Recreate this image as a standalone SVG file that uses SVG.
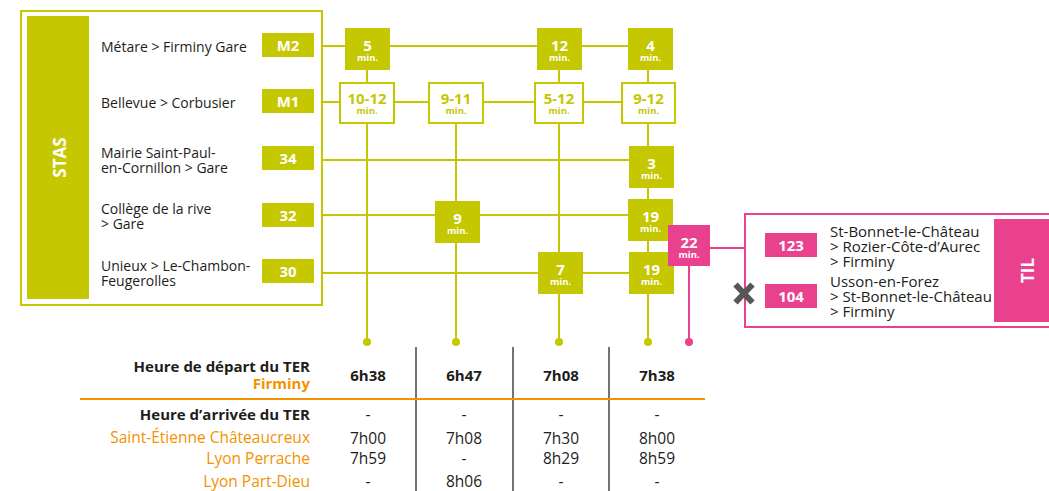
<svg xmlns="http://www.w3.org/2000/svg" width="1049" height="491" viewBox="0 0 1049 491">
<style>
text{font-family:"Open Sans","Liberation Sans",sans-serif;}
.g{fill:#c5c800;}
.p{fill:#e9418e;}
.ln{stroke:#c5c800;stroke-width:2;fill:none;}
.lp{stroke:#e9418e;stroke-width:2;fill:none;}
.ob{fill:#fff;stroke:#c5c800;stroke-width:2;}
.lab{font-size:14px;fill:#1d1d1b;}
.bl{font-size:15px;font-weight:bold;fill:#fff;text-anchor:middle;}
.tt{font-weight:bold;fill:#fff;text-anchor:middle;}
.num{font-size:15px;}
.min{font-size:9.5px;}
.gt{fill:#c5c800;}
.til{font-size:15px;fill:#1d1d1b;}
.th{font-size:15px;font-weight:bold;fill:#1d1d1b;text-anchor:end;}
.to{font-size:15.5px;fill:#f39200;text-anchor:end;}
.tob{font-size:15px;font-weight:bold;fill:#f39200;text-anchor:end;}
.tv{font-size:15.5px;fill:#1d1d1b;text-anchor:middle;}
.tvb{font-size:15px;font-weight:bold;fill:#1d1d1b;text-anchor:middle;}
</style>

<g id="stas-frame">
<rect x="21" y="11" width="301" height="294" fill="none" stroke="#c5c800" stroke-width="2"/>
<rect class="g" x="27" y="16" width="62" height="283"/>
<text transform="translate(65.5,157.5) rotate(-90)" text-anchor="middle" font-size="17" font-weight="bold" fill="#fff">STAS</text>
</g>

<g id="connectors">
<line class="ln" x1="322" y1="46" x2="628" y2="46"/>
<line class="ln" x1="322" y1="102" x2="622" y2="102"/>
<line class="ln" x1="322" y1="160" x2="629" y2="160"/>
<line class="ln" x1="322" y1="215" x2="628" y2="215"/>
<line class="ln" x1="322" y1="273" x2="629" y2="273"/>
<line class="ln" x1="367" y1="70" x2="367" y2="342"/>
<line class="ln" x1="456" y1="123" x2="456" y2="342"/>
<line class="ln" x1="559" y1="70" x2="559" y2="342"/>
<line class="ln" x1="648" y1="70" x2="648" y2="342"/>
<circle class="g" cx="367" cy="342" r="4"/>
<circle class="g" cx="456" cy="342" r="4"/>
<circle class="g" cx="559" cy="342" r="4"/>
<circle class="g" cx="648" cy="342" r="4"/>
<line class="lp" x1="689" y1="266" x2="689" y2="342"/>
<circle class="p" cx="689" cy="342" r="4"/>
<line class="lp" x1="710" y1="248" x2="745" y2="248"/>
</g>

<g id="line-M2">
<text class="lab" x="101" y="52">Métare &gt; Firminy Gare</text>
<rect class="g" x="262" y="33" width="52" height="24"/>
<text class="bl" x="288" y="51">M2</text>
</g>
<g id="line-M1">
<text class="lab" x="101" y="108">Bellevue &gt; Corbusier</text>
<rect class="g" x="262" y="89" width="52" height="24"/>
<text class="bl" x="288" y="107">M1</text>
</g>
<g id="line-34">
<text class="lab" x="101" y="158">Mairie Saint-Paul-</text>
<text class="lab" x="101" y="173">en-Cornillon &gt; Gare</text>
<rect class="g" x="262" y="146" width="52" height="24"/>
<text class="bl" x="288" y="164">34</text>
</g>
<g id="line-32">
<text class="lab" x="101" y="214">Collège de la rive</text>
<text class="lab" x="101" y="229">&gt; Gare</text>
<rect class="g" x="262" y="203" width="52" height="24"/>
<text class="bl" x="288" y="221">32</text>
</g>
<g id="line-30">
<text class="lab" x="101" y="271">Unieux &gt; Le-Chambon-</text>
<text class="lab" x="101" y="286">Feugerolles</text>
<rect class="g" x="262" y="259" width="52" height="24"/>
<text class="bl" x="288" y="277">30</text>
</g>

<g id="t-5"><rect class="g" x="345" y="28" width="45" height="42"/><text class="tt"><tspan class="num" x="367.5" y="51">5</tspan><tspan class="min" x="367.5" y="61">min.</tspan></text></g>
<g id="t-12"><rect class="g" x="537" y="28" width="45" height="42"/><text class="tt"><tspan class="num" x="559.5" y="51">12</tspan><tspan class="min" x="559.5" y="61">min.</tspan></text></g>
<g id="t-4"><rect class="g" x="628" y="28" width="45" height="42"/><text class="tt"><tspan class="num" x="650.5" y="51">4</tspan><tspan class="min" x="650.5" y="61">min.</tspan></text></g>

<g id="t-10-12"><rect class="ob" x="340" y="83" width="54" height="40"/><text class="tt gt"><tspan class="num" x="367" y="103.5">10-12</tspan><tspan class="min" x="367" y="113.5">min.</tspan></text></g>
<g id="t-9-11"><rect class="ob" x="429" y="83" width="54" height="40"/><text class="tt gt"><tspan class="num" x="456" y="103.5">9-11</tspan><tspan class="min" x="456" y="113.5">min.</tspan></text></g>
<g id="t-5-12"><rect class="ob" x="535" y="83" width="48" height="40"/><text class="tt gt"><tspan class="num" x="559" y="103.5">5-12</tspan><tspan class="min" x="559" y="113.5">min.</tspan></text></g>
<g id="t-9-12"><rect class="ob" x="622" y="83" width="53" height="40"/><text class="tt gt"><tspan class="num" x="648.5" y="103.5">9-12</tspan><tspan class="min" x="648.5" y="113.5">min.</tspan></text></g>

<g id="t-3"><rect class="g" x="629" y="146" width="45" height="42"/><text class="tt"><tspan class="num" x="651.5" y="169">3</tspan><tspan class="min" x="651.5" y="179">min.</tspan></text></g>
<g id="t-9"><rect class="g" x="435" y="201" width="45" height="42"/><text class="tt"><tspan class="num" x="457.5" y="224">9</tspan><tspan class="min" x="457.5" y="234">min.</tspan></text></g>
<g id="t-19a"><rect class="g" x="628" y="199" width="45" height="42"/><text class="tt"><tspan class="num" x="650.5" y="222">19</tspan><tspan class="min" x="650.5" y="232">min.</tspan></text></g>
<g id="t-7"><rect class="g" x="538" y="252" width="45" height="42"/><text class="tt"><tspan class="num" x="560.5" y="275">7</tspan><tspan class="min" x="560.5" y="285">min.</tspan></text></g>
<g id="t-19b"><rect class="g" x="629" y="252" width="45" height="42"/><text class="tt"><tspan class="num" x="651.5" y="275">19</tspan><tspan class="min" x="651.5" y="285">min.</tspan></text></g>
<g id="t-22"><rect class="p" x="668" y="225" width="42" height="41"/><text class="tt"><tspan class="num" x="689" y="247.5">22</tspan><tspan class="min" x="689" y="257.5">min.</tspan></text></g>

<g id="til-frame">
<rect x="745" y="214" width="320" height="113" fill="#fff" stroke="#e9418e" stroke-width="2"/>
<rect class="p" x="994" y="219" width="60" height="103"/>
<text transform="translate(1033.5,270.5) rotate(-90)" text-anchor="middle" font-size="17" font-weight="bold" fill="#fff">TIL</text>
</g>
<g id="line-123">
<rect class="p" x="765" y="233" width="52" height="24"/>
<text class="bl" x="791" y="251">123</text>
<text class="til"><tspan x="830" y="237">St-Bonnet-le-Château</tspan><tspan x="830" y="252">&gt; Rozier-Côte-d’Aurec</tspan><tspan x="830" y="267">&gt; Firminy</tspan></text>
</g>
<g id="line-104">
<rect class="p" x="765" y="284" width="52" height="24"/>
<text class="bl" x="791" y="302">104</text>
<text class="til"><tspan x="830" y="287">Usson-en-Forez</tspan><tspan x="830" y="302">&gt; St-Bonnet-le-Château</tspan><tspan x="830" y="317">&gt; Firminy</tspan></text>
<path d="M735.5,284.5 L752.5,302.5 M752.5,284.5 L735.5,302.5" stroke="#575757" stroke-width="6" fill="none"/>
</g>

<g id="table">
<line x1="416" y1="347" x2="416" y2="491" stroke="#444" stroke-width="1.5"/>
<line x1="513" y1="347" x2="513" y2="491" stroke="#444" stroke-width="1.5"/>
<line x1="609" y1="347" x2="609" y2="491" stroke="#444" stroke-width="1.5"/>
<line x1="80" y1="399" x2="705" y2="399" stroke="#f39200" stroke-width="2"/>
<text class="th" x="310" y="372">Heure de départ du TER</text>
<text class="tob" x="310" y="389">Firminy</text>
<text class="tvb" x="368" y="381">6h38</text>
<text class="tvb" x="464" y="381">6h47</text>
<text class="tvb" x="561" y="381">7h08</text>
<text class="tvb" x="657" y="381">7h38</text>
<text class="th" x="310" y="420">Heure d’arrivée du TER</text>
<text class="to" x="310" y="442.5">Saint-Étienne Châteaucreux</text>
<text class="to" x="310" y="464">Lyon Perrache</text>
<text class="to" x="310" y="487">Lyon Part-Dieu</text>
<text class="tv" x="368" y="420">-</text>
<text class="tv" x="464" y="420">-</text>
<text class="tv" x="561" y="420">-</text>
<text class="tv" x="657" y="420">-</text>
<text class="tv" x="368" y="443.5">7h00</text>
<text class="tv" x="464" y="443.5">7h08</text>
<text class="tv" x="561" y="443.5">7h30</text>
<text class="tv" x="657" y="443.5">8h00</text>
<text class="tv" x="368" y="464">7h59</text>
<text class="tv" x="464" y="464">-</text>
<text class="tv" x="561" y="464">8h29</text>
<text class="tv" x="657" y="464">8h59</text>
<text class="tv" x="368" y="487">-</text>
<text class="tv" x="464" y="487">8h06</text>
<text class="tv" x="561" y="487">-</text>
<text class="tv" x="657" y="487">-</text>
</g>
</svg>
